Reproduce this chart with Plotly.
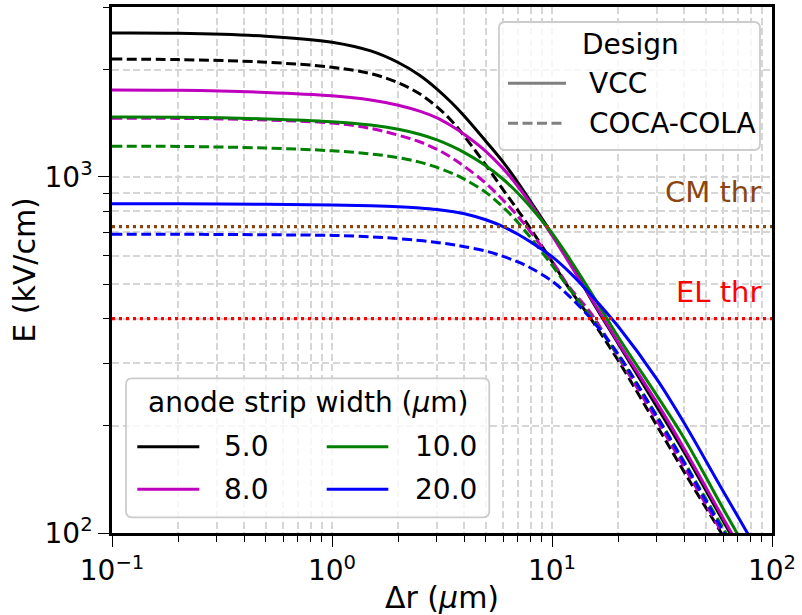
import math
import plotly.graph_objects as go

# ---------------- data ----------------
r = [0.1, 0.2, 0.5, 1, 1.5, 2, 2.5, 3, 3.5, 4, 5, 6, 7, 8, 10, 12, 15, 20, 30, 40, 60, 100]

widths = ["5.0", "8.0", "10.0", "20.0"]
colors = ["#000000", "#bf00bf", "#008000", "#0000ff"]

vcc_5 = [2535, 2530, 2484, 2390, 2258, 2095, 1930, 1765, 1615, 1480, 1260, 1100, 964, 853, 692, 580, 455, 340, 226, 168, 108, 62]
vcc_8 = [1754, 1750, 1727, 1690, 1645, 1590, 1530, 1465, 1390, 1315, 1180, 1055, 940, 840, 685, 572, 458, 343, 232, 172, 110, 63]
vcc_10 = [1472, 1470, 1455, 1429, 1398, 1361, 1318, 1270, 1220, 1170, 1075, 985, 900, 822, 695, 590, 475, 355, 243, 184, 117, 67]
vcc_20 = [840, 840, 838, 834, 830, 825, 818, 810, 800, 788, 758, 725, 690, 656, 597, 540, 467, 380, 270, 203, 131, 76]

coca_5 = [2142, 2135, 2099, 2032, 1950, 1838, 1712, 1573, 1436, 1300, 1080, 920, 806, 715, 578, 485, 400, 305, 200, 148, 98, 58]
coca_8 = [1462, 1460, 1445, 1416, 1368, 1310, 1255, 1195, 1132, 1070, 960, 860, 775, 700, 580, 490, 415, 312, 207, 153, 99, 57]
coca_10 = [1220, 1218, 1205, 1184, 1160, 1133, 1100, 1063, 1025, 985, 905, 822, 745, 675, 565, 485, 405, 315, 213, 158, 103, 60]
coca_20 = [690, 690, 688, 685, 679, 671, 663, 654, 646, 637, 619, 598, 577, 555, 510, 462, 400, 318, 212, 157, 101, 58]

vcc = [vcc_5, vcc_8, vcc_10, vcc_20]
coca = [coca_5, coca_8, coca_10, coca_20]

designs = ["VCC", "COCA-COLA"]
CM_thr = 725
EL_thr = 400

x_range = [0.1, 100]
y_range = [100, 3000]
x_tickvals = [0.1, 1, 10, 100]
x_ticktext = ["10<sup>−1</sup>", "10<sup>0</sup>", "10<sup>1</sup>", "10<sup>2</sup>"]
y_tickvals = [100, 1000]
y_ticktext = ["10<sup>2</sup>", "10<sup>3</sup>"]
x_minor = [d * 10 ** e for e in range(-1, 2) for d in range(2, 10)]
y_minor = [d * 10 ** e for e in range(2, 4) for d in range(2, 10)]

# ---------------- figure ----------------
FONT = "DejaVu Sans"
LW = 3.0
DASH = "10px,4.5px"
DOT = "3px,4px"

fig = go.Figure()
for i in range(4):
    fig.add_trace(go.Scatter(x=r, y=vcc[i], mode="lines", showlegend=False,
                             line=dict(color=colors[i], width=LW, shape="spline", smoothing=1.0)))
    fig.add_trace(go.Scatter(x=r, y=coca[i], mode="lines", showlegend=False,
                             line=dict(color=colors[i], width=LW, dash=DASH, shape="spline", smoothing=1.0)))

fig.add_trace(go.Scatter(x=x_range, y=[CM_thr, CM_thr], mode="lines", showlegend=False,
                         line=dict(color="#8b4513", width=3.2, dash=DOT)))
fig.add_trace(go.Scatter(x=x_range, y=[EL_thr, EL_thr], mode="lines", showlegend=False,
                         line=dict(color="#ff0000", width=3.2, dash=DOT)))

# plot area in pixels
L, R, T, B = 112, 772, 7, 533
W, H = R - L, B - T
X = lambda v: (v - L) / W
Y = lambda v: (B - v) / H


def box_path(x0, y0, x1, y1, rad=6):
    return (f"M {X(x0+rad)},{Y(y0)} L {X(x1-rad)},{Y(y0)} Q {X(x1)},{Y(y0)} {X(x1)},{Y(y0+rad)} "
            f"L {X(x1)},{Y(y1-rad)} Q {X(x1)},{Y(y1)} {X(x1-rad)},{Y(y1)} "
            f"L {X(x0+rad)},{Y(y1)} Q {X(x0)},{Y(y1)} {X(x0)},{Y(y1-rad)} "
            f"L {X(x0)},{Y(y0+rad)} Q {X(x0)},{Y(y0)} {X(x0+rad)},{Y(y0)} Z")


shapes = []
annotations = []
LEG_FS = 28

# Design legend (top right)
shapes.append(dict(type="path", xref="paper", yref="paper", path=box_path(499, 22, 760, 150),
                   fillcolor="rgba(255,255,255,0.8)", line=dict(color="#cccccc", width=1.8), layer="above"))
annotations.append(dict(xref="paper", yref="paper", x=X(630), y=Y(45), text="Design", showarrow=False,
                        xanchor="center", yanchor="middle", font=dict(size=LEG_FS, color="black", family=FONT)))
for j, (name, dash, yy) in enumerate(zip(designs, ["solid", DASH], [83.3, 123.3])):
    shapes.append(dict(type="line", xref="paper", yref="paper", x0=X(508), x1=X(566), y0=Y(yy), y1=Y(yy),
                       line=dict(color="#808080", width=LW, dash=dash), layer="above"))
    annotations.append(dict(xref="paper", yref="paper", x=X(586.7), y=Y(yy), text=name, showarrow=False,
                            xanchor="left", yanchor="middle", font=dict(size=LEG_FS, color="black", family=FONT)))

# anode strip width legend (bottom left)
shapes.append(dict(type="path", xref="paper", yref="paper", path=box_path(126, 378.3, 489.3, 517.3),
                   fillcolor="rgba(255,255,255,0.8)", line=dict(color="#cccccc", width=1.8), layer="above"))
annotations.append(dict(xref="paper", yref="paper", x=X(308.3), y=Y(402.7), text="anode strip width (<i>μ</i>m)",
                        showarrow=False, xanchor="center", yanchor="middle",
                        font=dict(size=LEG_FS, color="black", family=FONT)))
cols = [(137.3, 199.3, 221.7), (326.7, 388.3, 412.7)]
rows = [446.7, 489.3]
for i in range(4):
    c = cols[i // 2]
    yy = rows[i % 2]
    shapes.append(dict(type="line", xref="paper", yref="paper", x0=X(c[0]), x1=X(c[1]), y0=Y(yy), y1=Y(yy),
                       line=dict(color=colors[i], width=LW), layer="above"))
    annotations.append(dict(xref="paper", yref="paper", x=X(c[2]), y=Y(yy), text=widths[i], showarrow=False,
                            xanchor="left", yanchor="middle", font=dict(size=LEG_FS, color="black", family=FONT)))

# threshold labels
annotations.append(dict(xref="paper", yref="y", x=X(763), y=math.log10(CM_thr * 1.25), text="CM thr",
                        showarrow=False, xanchor="right", yanchor="middle",
                        font=dict(size=29, color="#8b4513", family=FONT)))
annotations.append(dict(xref="paper", yref="y", x=X(763), y=math.log10(EL_thr * 1.19), text="EL thr",
                        showarrow=False, xanchor="right", yanchor="middle",
                        font=dict(size=29, color="#ff0000", family=FONT)))

GRID = dict(showgrid=True, gridcolor="#d6d6d6", gridwidth=1.5, griddash="7px,3.5px")

fig.update_xaxes(type="log", range=[math.log10(x_range[0]), math.log10(x_range[1])],
                 tickmode="array", tickvals=x_tickvals, ticktext=x_ticktext,
                 ticks="outside", ticklen=11, tickwidth=1.3, tickcolor="black",
                 showline=True, linecolor="black", linewidth=2.5, mirror=True, zeroline=False,
                 tickfont=dict(size=28, color="black", family=FONT),
                 title=dict(text="Δr (<i>μ</i>m)", font=dict(size=30, color="black", family=FONT), standoff=6),
                 automargin=False,
                 minor=dict(tickmode="array", tickvals=x_minor, ticks="outside", ticklen=6, tickwidth=1.1,
                            tickcolor="black", **GRID),
                 **GRID)
fig.update_yaxes(type="log", range=[math.log10(y_range[0]), math.log10(y_range[1])],
                 tickmode="array", tickvals=y_tickvals, ticktext=y_ticktext,
                 ticks="outside", ticklen=11, tickwidth=1.3, tickcolor="black",
                 showline=True, linecolor="black", linewidth=2.5, mirror=True, zeroline=False,
                 tickfont=dict(size=28, color="black", family=FONT),
                 title=dict(text="E (kV/cm)", font=dict(size=30, color="black", family=FONT), standoff=1),
                 automargin=False,
                 minor=dict(tickmode="array", tickvals=y_minor, ticks="outside", ticklen=6, tickwidth=1.1,
                            tickcolor="black", **GRID),
                 **GRID)

fig.update_layout(width=802, height=615, template="none",
                  margin=dict(l=L, r=802 - R, t=T, b=615 - B),
                  plot_bgcolor="white", paper_bgcolor="white",
                  font=dict(family=FONT, color="black"),
                  shapes=shapes, annotations=annotations, showlegend=False)

fig.write_html("out.html")
